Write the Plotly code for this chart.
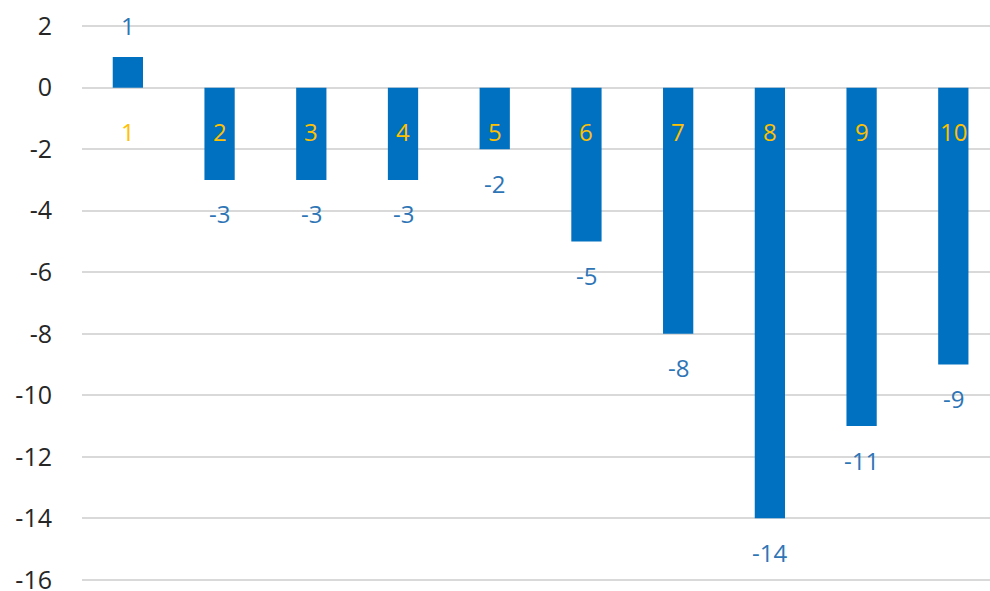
import plotly.graph_objects as go

categories = [1, 2, 3, 4, 5, 6, 7, 8, 9, 10]
cat_labels = ["1", "2", "3", "4", "5", "6", "7", "8", "9", "10"]
values = [1, -3, -3, -3, -2, -5, -8, -14, -11, -9]
y_ticks = [2, 0, -2, -4, -6, -8, -10, -12, -14, -16]
y_tick_text = ["2", "0", "-2", "-4", "-6", "-8", "-10", "-12", "-14", "-16"]

FONT = "Open Sans, Liberation Sans, sans-serif"

fig = go.Figure()
fig.add_trace(go.Bar(
    x=categories, y=values, width=0.33,
    marker=dict(color="#0070C0", line=dict(width=0)),
    hoverinfo="x+y",
))

annotations = []
for c, lab, v in zip(categories, cat_labels, values):
    annotations.append(dict(
        x=c, y=0, xref="x", yref="y", text=lab, showarrow=False,
        yanchor="middle", yshift=-44,
        font=dict(family=FONT, size=24, color="#FFC000"),
    ))
    annotations.append(dict(
        x=c, y=v, xref="x", yref="y", text=str(v), showarrow=False,
        yanchor="middle", yshift=(31 if v >= 0 else -34),
        font=dict(family=FONT, size=24, color="#2E75B6"),
    ))

fig.update_layout(
    width=990, height=591,
    margin=dict(l=82, r=0, t=17, b=2, autoexpand=False),
    paper_bgcolor="white", plot_bgcolor="white",
    showlegend=False,
    annotations=annotations,
    xaxis=dict(range=[0.5, 10.4], showticklabels=False, showgrid=False,
               zeroline=False, showline=False, ticks="", automargin=False),
    yaxis=dict(range=[-16.3, 2.3], tickvals=y_ticks, ticktext=y_tick_text,
               showgrid=True, gridcolor="#D9D9D9", gridwidth=1.5,
               zeroline=False, showline=False, ticks="", automargin=False,
               ticklabelstandoff=29, ticklabeloverflow="allow",
               tickfont=dict(family=FONT, size=25, color="#262626")),
)

fig.write_html("out.html")
